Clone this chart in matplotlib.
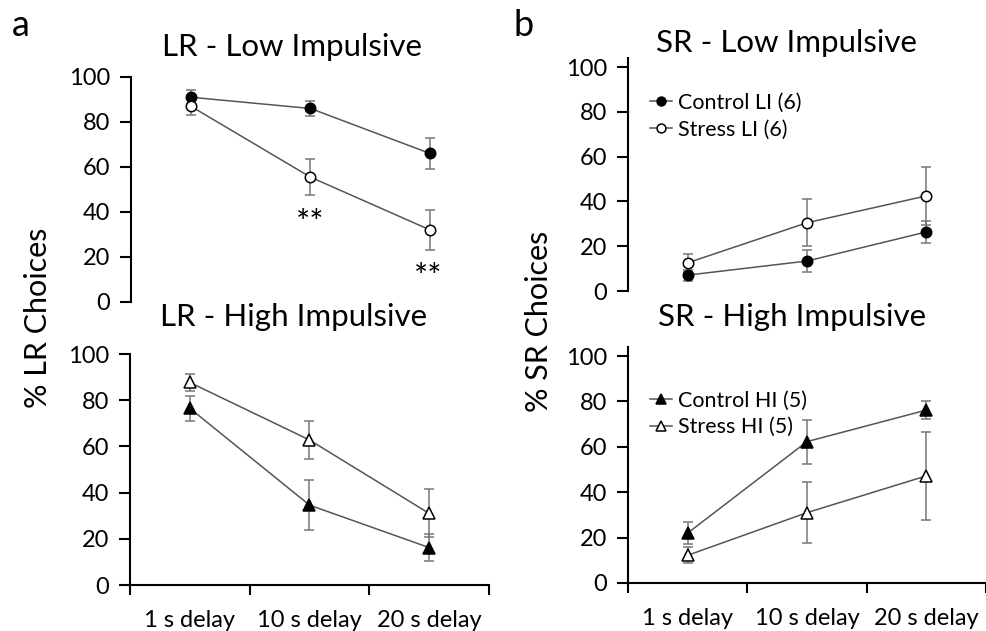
import matplotlib.pyplot as plt

plt.rcParams['font.family'] = ['Lato', 'DejaVu Sans']

# Daten
delays = ['1 s delay', '10 s delay', '20 s delay']
pos = [0.5, 1.5, 2.5]

lr_li_control = [91, 86, 66]
lr_li_control_err = [3, 3.5, 7]
lr_li_stress = [87, 55.5, 32]
lr_li_stress_err = [3.7, 8, 8.7]

lr_hi_control = [76.5, 34.6, 16.2]
lr_hi_control_err = [5.5, 11, 5.8]
lr_hi_stress = [87.7, 62.8, 31]
lr_hi_stress_err = [3.6, 8.4, 10.4]

sr_li_control = [7.1, 13.4, 26.4]
sr_li_control_err = [2.5, 4.9, 4.8]
sr_li_stress = [12.6, 30.5, 42.5]
sr_li_stress_err = [3.9, 10.4, 12.9]

sr_hi_control = [22, 62.3, 76.2]
sr_hi_control_err = [4.8, 9.7, 4]
sr_hi_stress = [12.2, 31, 47.2]
sr_hi_stress_err = [3.5, 13.4, 19.5]

fig = plt.figure(figsize=(9.87, 6.31), dpi=100)

ax_tl = fig.add_axes([0.1327, 0.5214, 0.3637, 0.3566])
ax_bl = fig.add_axes([0.1317, 0.0729, 0.3637, 0.3660])
ax_tr = fig.add_axes([0.6363, 0.5388, 0.3627, 0.3690])
ax_br = fig.add_axes([0.6363, 0.0761, 0.3627, 0.3740])


def serie(ax, y, err, marker, face, label=None):
    ms = 7.5 if marker == 'o' else 8.5
    ax.errorbar(pos, y, yerr=err, color='#555555', lw=1.1, ecolor='#777777',
                elinewidth=1.1, capsize=3.5, capthick=1.1, marker=marker,
                markersize=ms, markerfacecolor=face, markeredgecolor='black',
                markeredgewidth=1.1, label=label, zorder=3)


def eixos(ax, ymax, xaxis):
    ax.set_xlim(0, 3)
    ax.set_ylim(0, ymax)
    ax.set_yticks([0, 20, 40, 60, 80, 100])
    ax.spines['top'].set_visible(False)
    ax.spines['right'].set_visible(False)
    ax.spines['left'].set_linewidth(1.5)
    ax.spines['bottom'].set_linewidth(1.5)
    ax.tick_params(axis='y', labelsize=17, length=8, width=1.5, pad=7)
    if xaxis:
        ax.set_xticks([0, 1, 2, 3])
        ax.set_xticklabels([])
        ax.set_xticks(pos, minor=True)
        ax.set_xticklabels(delays, minor=True)
        ax.tick_params(axis='x', which='major', length=7, width=1.5)
        ax.tick_params(axis='x', which='minor', length=0, labelsize=17, pad=18)
    else:
        ax.spines['bottom'].set_visible(False)
        ax.set_xticks([])


serie(ax_tl, lr_li_control, lr_li_control_err, 'o', 'black')
serie(ax_tl, lr_li_stress, lr_li_stress_err, 'o', 'white')
eixos(ax_tl, 100, False)
ax_tl.text(1.5, 34.5, '**', ha='center', va='center', fontsize=24)
ax_tl.text(2.48, 10.5, '**', ha='center', va='center', fontsize=24)

serie(ax_bl, lr_hi_control, lr_hi_control_err, '^', 'black')
serie(ax_bl, lr_hi_stress, lr_hi_stress_err, '^', 'white')
eixos(ax_bl, 100, True)

serie(ax_tr, sr_li_control, sr_li_control_err, 'o', 'black', 'Control LI (6)')
serie(ax_tr, sr_li_stress, sr_li_stress_err, 'o', 'white', 'Stress LI (6)')
eixos(ax_tr, 104, False)

serie(ax_br, sr_hi_control, sr_hi_control_err, '^', 'black', 'Control HI (5)')
serie(ax_br, sr_hi_stress, sr_hi_stress_err, '^', 'white', 'Stress HI (5)')
eixos(ax_br, 104, True)

for ax, loc in [(ax_tr, (0.03, 0.897)), (ax_br, (0.03, 0.86))]:
    handles, labels = ax.get_legend_handles_labels()
    handles = [h[0] for h in handles]
    ax.legend(handles, labels, loc='upper left', bbox_to_anchor=loc,
              frameon=False, fontsize=15.5, handlelength=1.05, handletextpad=0.25,
              labelspacing=0.3, markerscale=0.85, borderpad=0)

# Titulos e rotulos
fig.text(0.296, 0.925, 'LR - Low Impulsive', ha='center', va='center', fontsize=22.5)
fig.text(0.297, 0.497, 'LR - High Impulsive', ha='center', va='center', fontsize=22.5)
fig.text(0.797, 0.932, 'SR - Low Impulsive', ha='center', va='center', fontsize=22.5)
fig.text(0.802, 0.497, 'SR - High Impulsive', ha='center', va='center', fontsize=22.5)
fig.text(0.038, 0.496, '% LR Choices', rotation=90, ha='center', va='center', fontsize=22)
fig.text(0.546, 0.490, '% SR Choices', rotation=90, ha='center', va='center', fontsize=22)
fig.text(0.012, 0.96, 'a', ha='left', va='center', fontsize=26)
fig.text(0.52, 0.96, 'b', ha='left', va='center', fontsize=26)

plt.savefig('out.png', dpi=100)
